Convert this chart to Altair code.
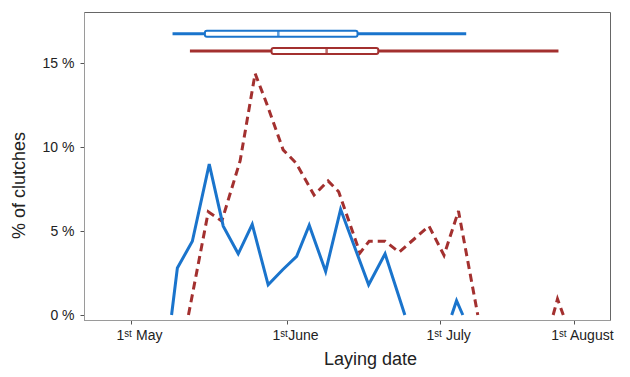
import altair as alt
import pandas as pd

# ---- data (x = days after 1 May, y = % of clutches) ----
blue_day = [8.4, 9.6, 12.7, 16.2, 19.1, 22.2, 25.1, 28.4, 31.4, 34.3, 36.9, 40.3, 43.4, 49.2, 52.6, 56.7,
            66.4, 67.4, 68.7]
blue_pct = [0, 2.8, 4.4, 9.0, 5.3, 3.65, 5.4, 1.8, 2.7, 3.5, 5.35, 2.6, 6.3, 1.8, 3.65, 0,
            0, 0.85, 0]
blue_seg = [1] * 16 + [2] * 3

red_day = [11.9, 16.0, 18.8, 22.6, 25.7, 28.1, 31.5, 34.2, 37.9, 40.8, 43.0, 47.4, 49.3, 52.6, 55.5,
           61.7, 64.8, 67.8, 71.8,
           87.4, 88.3, 89.5]
red_pct = [0, 6.15, 5.6, 9.2, 14.4, 12.6, 9.85, 9.05, 7.15, 8.0, 7.35, 3.7, 4.4, 4.4, 3.75,
           5.3, 3.56, 6.2, 0,
           0, 0.95, 0]
red_seg = [1] * 19 + [2] * 3

series_names = ["A", "B"]
series_colors = ["#1a74cc", "#a3302f"]

box_series = ["A", "B"]
box_lo = [8.6, 12.2]
box_q1 = [15.3, 29.1]
box_med = [30.5, 40.5]
box_q3 = [46.9, 51.2]
box_hi = [69.4, 88.5]
box_y = [16.77, 15.75]

tick_days = [0, 32.3, 64.0, 91.7]
tick_labels = ["1\u02e2\u1d57 May", "1\u02e2\u1d57June", "1\u02e2\u1d57 July", "1\u02e2\u1d57 August"]
y_ticks = [0, 5, 10, 15]

# ---- tables ----
blue_df = pd.DataFrame({"day": blue_day, "pct": blue_pct, "seg": blue_seg, "series": "A"})
red_df = pd.DataFrame({"day": red_day, "pct": red_pct, "seg": red_seg, "series": "B"})
box_df = pd.DataFrame({"series": box_series, "lo": box_lo, "q1": box_q1, "med": box_med,
                       "q3": box_q3, "hi": box_hi, "ypos": box_y})

label_expr = " : ".join(
    f"datum.value < {((tick_days[i] + tick_days[i + 1]) / 2) if i + 1 < len(tick_days) else 1e9} ? '{tick_labels[i]}'"
    for i in range(len(tick_days))
) + " : ''"

xscale = alt.Scale(domain=[-9.73, 99.17], nice=False, zero=False)
yscale = alt.Scale(domain=[0, 17.77], nice=False)
cscale = alt.Scale(domain=series_names, range=series_colors)

xaxis = alt.Axis(values=tick_days, labelExpr=label_expr, grid=False, domainColor="#9a9a9a",
                 tickColor="#555", tickSize=4, labelFontSize=14, labelPadding=4, labelOffset=8,
                 labelColor="#222", title="Laying date", titleFontSize=18, titleFontWeight="normal",
                 titleColor="#222", titleX=286, titleY=44, titleBaseline="alphabetic")
yaxis = alt.Axis(values=y_ticks, labelExpr="datum.value + ' %'", grid=False, domainColor="#9a9a9a",
                 tickColor="#555", tickSize=4, labelFontSize=14, labelPadding=6, labelColor="#222",
                 title="% of clutches", titleFontSize=18, titleFontWeight="normal", titleColor="#222",
                 titleX=-65, titleY=173, titleBaseline="middle", titleAlign="center")

X = alt.X("day:Q", scale=xscale, axis=xaxis)
Y = alt.Y("pct:Q", scale=yscale, axis=yaxis)

red_line = alt.Chart(red_df).mark_line(strokeWidth=3, strokeDash=[8, 5]).encode(
    x=X, y=Y, detail="seg:N", color=alt.Color("series:N", scale=cscale, legend=None))
blue_line = alt.Chart(blue_df).mark_line(strokeWidth=3).encode(
    x="day:Q", y="pct:Q", detail="seg:N", color=alt.Color("series:N", scale=cscale, legend=None))

whisk = alt.Chart(box_df).mark_rule(strokeWidth=3).encode(
    x="lo:Q", x2="hi:Q", y="ypos:Q", color=alt.Color("series:N", scale=cscale, legend=None))
boxes = alt.Chart(box_df).mark_bar(size=6, fill="white", strokeWidth=2, cornerRadius=2).encode(
    x="q1:Q", x2="q3:Q", y="ypos:Q", stroke=alt.Stroke("series:N", scale=cscale, legend=None))
meds = alt.Chart(box_df).mark_tick(orient="vertical", size=6, thickness=2.5).encode(
    x="med:Q", y="ypos:Q", color=alt.Color("series:N", scale=cscale, legend=None))

chart = alt.layer(red_line, blue_line, whisk, boxes, meds).properties(
    width=526, height=308, autosize=alt.AutoSizeParams(type="none"),
    padding={"left": 76, "top": 4, "right": 12, "bottom": 49},
).configure(font="Liberation Sans").configure_view(stroke="#666", strokeWidth=1)

chart.save("out.html", embed_options={"renderer": "svg", "actions": False})
